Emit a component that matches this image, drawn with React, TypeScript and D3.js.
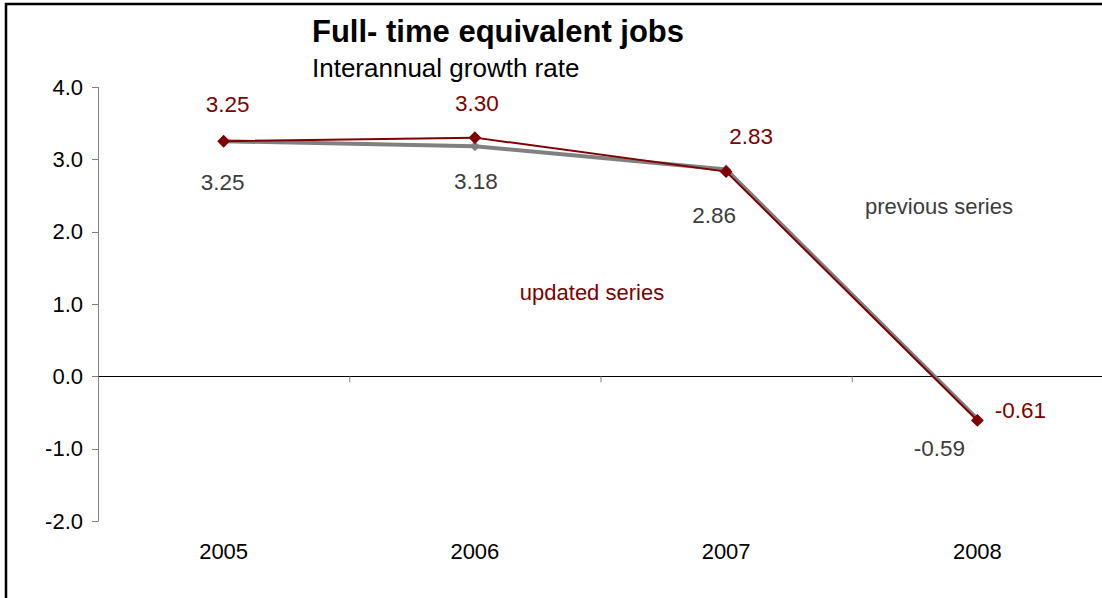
import React from "react";
import * as d3 from "d3";

// Full-time equivalent jobs, interannual growth rate (%)
const years = ["2005", "2006", "2007", "2008"];
const previousSeries = [3.25, 3.18, 2.86, -0.59];
const updatedSeries = [3.25, 3.3, 2.83, -0.61];
const yTicks = [-2, -1, 0, 1, 2, 3, 4];

const W = 1102;
const H = 598;
const FONT = "'Liberation Sans', Arial, sans-serif";
const RED = "#800000";
const GREY = "#808080";
const GREY_TEXT = "#3c3c3c";

export default function App() {
  const x = d3.scaleBand<string>().domain(years).range([98, 1103]).padding(0);
  const y = d3.scaleLinear().domain([-2, 4]).range([521, 87]);
  const cx = (yr: string) => (x(yr) as number) + x.bandwidth() / 2;

  const line = d3
    .line<number>()
    .x((_, i) => cx(years[i]))
    .y((v) => y(v));

  const diamond = d3.symbol().type(d3.symbolDiamond2);

  // label offsets (dx, dy) relative to each point
  const updatedLabelPos = [
    [4, -37],
    [2, -35],
    [25, -36],
    [43, -10],
  ];
  const previousLabelPos = [
    [-1, 41],
    [1, 35],
    [-12, 46],
    [-38, 29],
  ];

  const boundaries = [...years.map((yr) => x(yr) as number), 1103];

  return (
    <svg
      width={W}
      height={H}
      style={{ position: "absolute", left: 0, top: 0, background: "#fff" }}
      fontFamily={FONT}
    >
      <rect x={0} y={0} width={W} height={H} fill="#fff" />
      {/* outer frame */}
      <rect x={6} y={4} width={W + 20} height={H + 20} fill="none" stroke="#000" strokeWidth={2.5} />

      {/* title */}
      <text x={312} y={42} fontSize={31} fontWeight="bold" fill="#000">
        Full- time equivalent jobs
      </text>
      <text x={312} y={77} fontSize={26} fill="#000">
        Interannual growth rate
      </text>

      {/* y axis */}
      <line x1={98.5} x2={98.5} y1={y(4)} y2={y(-2)} stroke={GREY} strokeWidth={1} />
      {yTicks.map((t) => (
        <g key={t}>
          <line x1={92} x2={98.5} y1={Math.round(y(t)) + 0.5} y2={Math.round(y(t)) + 0.5} stroke={GREY} />
          <text
            x={83}
            y={y(t)}
            dy="0.35em"
            textAnchor="end"
            fontSize={22}
            fill="#000"
          >
            {t.toFixed(1)}
          </text>
        </g>
      ))}

      {/* x axis along zero */}
      <line x1={98} x2={W} y1={Math.round(y(0)) + 0.5} y2={Math.round(y(0)) + 0.5} stroke="#000" strokeWidth={1} />
      {boundaries.map((b, i) => (
        <line
          key={i}
          x1={b + 0.5}
          x2={b + 0.5}
          y1={y(0)}
          y2={y(0) + 6}
          stroke={GREY}
        />
      ))}
      {years.map((yr) => (
        <text key={yr} x={cx(yr)} y={559} textAnchor="middle" fontSize={22} fill="#000">
          {yr}
        </text>
      ))}

      {/* previous series */}
      <path d={line(previousSeries) || ""} fill="none" stroke={GREY} strokeWidth={4} />
      {previousSeries.map((v, i) => (
        <path
          key={i}
          d={diamond.size(65)() || ""}
          transform={`translate(${cx(years[i])},${y(v)})`}
          fill={GREY}
        />
      ))}

      {/* updated series */}
      <path d={line(updatedSeries) || ""} fill="none" stroke={RED} strokeWidth={2} />
      {updatedSeries.map((v, i) => (
        <path
          key={i}
          d={diamond.size(105)() || ""}
          transform={`translate(${cx(years[i])},${y(v)})`}
          fill={RED}
        />
      ))}

      {/* value labels */}
      {updatedSeries.map((v, i) => (
        <text
          key={"u" + i}
          x={cx(years[i]) + updatedLabelPos[i][0]}
          y={y(v) + updatedLabelPos[i][1]}
          dy="0.35em"
          textAnchor="middle"
          fontSize={22.5}
          fill={RED}
        >
          {v.toFixed(2)}
        </text>
      ))}
      {previousSeries.map((v, i) => (
        <text
          key={"p" + i}
          x={cx(years[i]) + previousLabelPos[i][0]}
          y={y(v) + previousLabelPos[i][1]}
          dy="0.35em"
          textAnchor="middle"
          fontSize={22.5}
          fill={GREY_TEXT}
        >
          {v.toFixed(2)}
        </text>
      ))}

      {/* series names */}
      <text x={939} y={206} dy="0.35em" textAnchor="middle" fontSize={22} fill={GREY_TEXT}>
        previous series
      </text>
      <text x={592} y={292} dy="0.35em" textAnchor="middle" fontSize={22} fill={RED}>
        updated series
      </text>
    </svg>
  );
}
